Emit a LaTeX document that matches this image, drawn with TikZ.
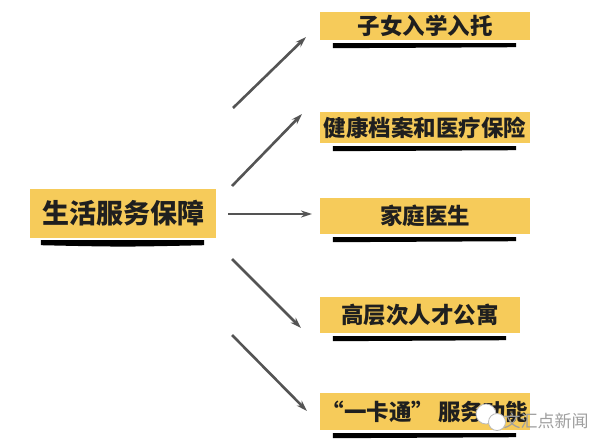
\documentclass[tikz,border=0pt]{standalone}
\usepackage{fontspec}
\newfontfamily\cjk{Noto Sans CJK SC}
\usetikzlibrary{arrows.meta}
\definecolor{boxyellow}{HTML}{F6CB5A}
\definecolor{arrowgray}{HTML}{545454}
\tikzset{
        itembox/.style={fill=boxyellow, inner sep=0pt, text=black!88, font=\cjk\bfseries\fontsize{22.5}{22.5}\selectfont},
        link/.style={draw=arrowgray, line width=2.6pt, -{Stealth[length=11pt,width=7pt]}}
}
\begin{document}
\begin{tikzpicture}[x=1pt, y=-1pt]
        \useasboundingbox[fill=white] (0,0) rectangle (601,447);
        \node[itembox, minimum width=186pt, minimum height=49pt, font=\cjk\bfseries\fontsize{27}{27}\selectfont] (main) at (123,213.5) {生活服务保障};
        \fill[black] ([xshift=11pt,yshift=-2pt]main.south west) .. controls (123,240) .. ([xshift=-12pt,yshift=-2pt]main.south east)
                -- ([xshift=-12pt,yshift=-7pt]main.south east) .. controls (123,247) .. ([xshift=11pt,yshift=-7pt]main.south west) -- cycle;
        \foreach \t/\b/\r/\txt/\n in {12/40/530/子女入学入托/a, 112/143/530/健康档案和医疗保险/b, 198/234/530/家庭医生/c, 297/333/520/高层次人才公寓/d, 393/430/530/{“一卡通”\,服务功能}/e} {
                \node[itembox, minimum width={(\r-320)*1pt}, minimum height={(\b-\t)*1pt}] (\n) at ({(320+\r)/2},{(\t+\b)/2}) {\txt};
                \fill[black] ([xshift=13pt,yshift=-3pt]\n.south west) -- ([xshift=-14pt,yshift=-3pt]\n.south east)
                        -- ([xshift=-14pt,yshift=-7pt]\n.south east) -- ([xshift=13pt,yshift=-8pt]\n.south west) -- cycle;
        }
        \foreach \i/\sx/\sy/\ex/\ey in {1/233/108/306/37, 2/232/186/302/114, 3/228/214/312/214, 4/232/259/301/328, 5/232/335/307/411} {
                \coordinate (s\i) at (\sx,\sy);
                \coordinate (e\i) at (\ex,\ey);
                \draw[link] (s\i) -- (e\i);
        }
        \draw[gray!55, fill=white, line width=0.8pt] (486,414) circle (10pt);
        \draw[gray!55, fill=white, line width=0.8pt] (497,422) circle (8.5pt);
        \node[text=gray!75, font=\cjk\fontsize{17}{17}\selectfont] (mark) at (546,421) {文汇点新闻};
\end{tikzpicture}
\end{document}
